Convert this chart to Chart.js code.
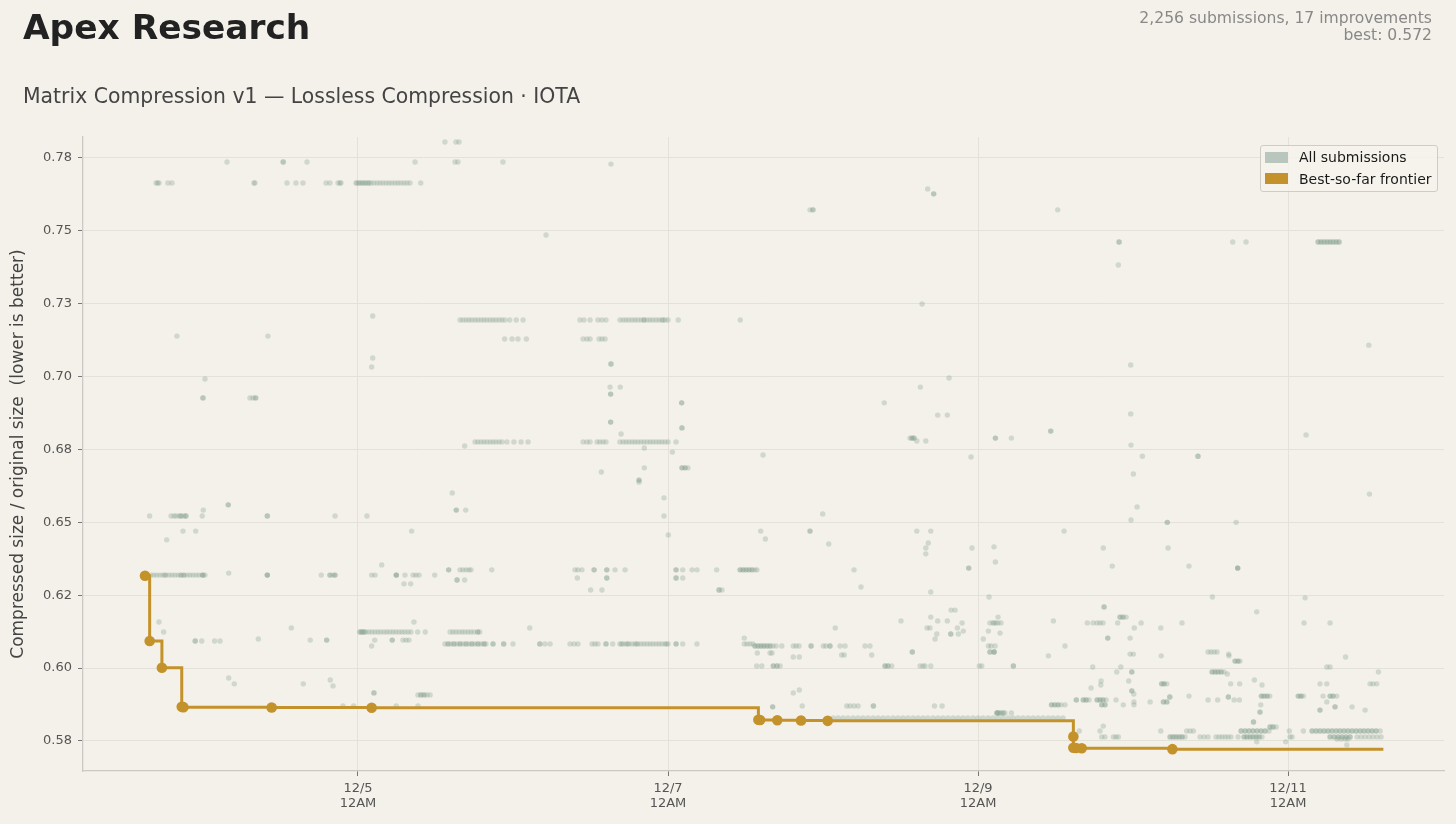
<!DOCTYPE html>
<html>
<head>
<meta charset="utf-8">
<script src="https://cdn.jsdelivr.net/npm/chart.js@4.4.1/dist/chart.umd.min.js"></script>
<style>
html,body{margin:0;padding:0;background:#f4f1ea;width:1456px;height:824px;overflow:hidden;font-family:"DejaVu Sans",sans-serif}
#wrap{position:relative;width:1456px;height:824px}
#c{position:absolute;left:0;top:0;width:1456px;height:824px}
.t{position:absolute;white-space:pre;line-height:1}
#title{left:23px;top:10px;font-size:34.4px;font-weight:bold;color:#222}
#subtitle{left:23px;top:85.5px;font-size:20.4px;color:#444}
#stats{right:24px;top:10px;font-size:15.6px;line-height:17.4px;color:#888;text-align:right}
#legend{position:absolute;left:1260px;top:145px;width:176px;height:45px;border:1px solid #cfccc4;border-radius:3px;background:rgba(246,244,238,0.8)}
.sw{position:absolute;width:23px;height:11px}
.lt{position:absolute;font-size:14px;line-height:1;color:#1a1a1a;white-space:pre}
</style>
</head>
<body>
<div id="wrap">
<canvas id="c" width="1456" height="824"></canvas>
<div class="t" id="title">Apex Research</div>
<div class="t" id="subtitle">Matrix Compression v1 — Lossless Compression · IOTA</div>
<div class="t" id="stats">2,256 submissions, 17 improvements
best: 0.572</div>
<div id="legend"></div>
</div>
<script>
// ---------- axis ticks ----------
const xTickValues = [5, 7, 9, 11];               // day of December, 12AM
const xTickLabels = [['12/5','12AM'],['12/7','12AM'],['12/9','12AM'],['12/11','12AM']];
const yTickValues = [0.575,0.6,0.625,0.65,0.675,0.7,0.725,0.75,0.775];
const yTickLabels = ['0.58','0.60','0.62','0.65','0.68','0.70','0.73','0.75','0.78'];
const xRange = [3.226, 12.006];
const yRange = [0.5647, 0.7822];

// ---------- best-so-far frontier (improvements) ----------
const frontierTimes  = [3.626,3.656,3.735,3.863,3.874,4.443,5.088,7.583,7.594,7.705,7.858,8.030,9.615,9.615,9.632,9.669,10.254];
const frontierValues = [0.6317,0.6093,0.6001,0.5867,0.5866,0.5865,0.5864,0.5823,0.5822,0.5821,0.5820,0.5819,0.5765,0.5727,0.5726,0.5725,0.5722];
const frontierNow = [11.615, 0.5722];

// ---------- all submissions: [value, [times (day of Dec)]] ----------
const subsDec3to5 = [
 [0.7805,[5.561,5.632,5.652]],
 [0.7736,[4.155,4.516,4.519,4.671,5.368,5.626,5.645,5.935]],
 [0.7664,[3.697,3.708,3.716,3.774,3.800,4.329,4.335,4.542,4.600,4.645,4.794,4.819,4.871,4.884,4.890,4.987,4.994,5.006,5.013,5.026,5.032,5.045,5.052,5.065,5.071,5.084,5.103,5.123,5.142,5.161,5.181,5.200,5.219,5.239,5.258,5.277,5.297,5.316,5.335,5.405]],
 [0.7208,[5.095]],
 [0.7194,[5.658,5.677,5.697,5.716,5.735,5.755,5.774,5.794,5.813,5.832,5.852,5.871,5.890,5.910,5.929,5.948,5.979,6.021,6.065]],
 [0.7139,[3.832,4.419]],
 [0.7129,[5.946,5.994,6.032,6.086]],
 [0.7064,[5.095]],
 [0.7033,[5.088]],
 [0.6992,[4.013]],
 [0.6927,[4.000,4.000,4.303,4.323,4.340,4.340]],
 [0.6776,[5.755,5.774,5.794,5.813,5.832,5.852,5.871,5.890,5.910,5.929,5.961,6.006,6.052,6.097]],
 [0.6762,[5.688]],
 [0.6601,[5.608]],
 [0.6560,[4.163,4.163]],
 [0.6542,[4.002,5.634,5.634,5.695]],
 [0.6522,[3.656,3.794,3.813,3.826,3.845,3.858,3.858,3.877,3.890,3.890,3.995,4.415,4.415,4.852,5.058]],
 [0.6470,[3.871,3.953,5.346]],
 [0.6440,[3.766]],
 [0.6354,[5.153]],
 [0.6337,[5.585,5.585,5.658,5.677,5.697,5.716,5.729,5.863]],
 [0.6326,[4.166]],
 [0.6319,[3.665,3.684,3.703,3.723,3.742,3.755,3.761,3.781,3.800,3.819,3.839,3.858,3.858,3.877,3.877,3.897,3.916,3.935,3.955,3.974,3.994,4.000,4.000,4.013,4.415,4.415,4.415,4.763,4.819,4.819,4.839,4.852,4.852,5.088,5.110,5.247,5.247,5.247,5.303,5.355,5.374,5.394,5.495]],
 [0.6302,[5.639,5.639,5.688]],
 [0.6289,[5.297,5.340]],
 [0.6158,[3.716,5.361]],
 [0.6138,[4.570,6.108]],
 [0.6124,[3.746,5.013,5.013,5.026,5.026,5.039,5.039,5.052,5.071,5.090,5.110,5.129,5.148,5.168,5.187,5.206,5.226,5.245,5.265,5.284,5.303,5.323,5.342,5.385,5.434,5.594,5.613,5.632,5.652,5.671,5.690,5.710,5.729,5.748,5.772,5.772,5.785]],
 [0.6100,[4.357]],
 [0.6096,[4.692,4.798,4.798,5.108,5.221,5.221,5.290,5.310,5.329]],
 [0.6093,[3.950,3.950,3.992,4.075,4.110]],
 [0.6083,[5.561,5.581,5.581,5.600,5.619,5.619,5.639,5.658,5.658,5.677,5.697,5.697,5.716,5.735,5.735,5.755,5.774,5.774,5.794,5.813,5.813,5.826,5.871,5.871,5.940,5.940,6.000,6.172]],
 [0.6076,[5.088]],
 [0.5966,[4.166]],
 [0.5959,[4.821]],
 [0.5946,[4.202,4.647]],
 [0.5939,[4.839]],
 [0.5915,[5.103,5.103]],
 [0.5908,[5.387,5.406,5.406,5.426,5.426,5.445,5.465]],
 [0.5870,[4.903,4.972,5.247,5.387]]
];

const subsDec6to9 = [
 [0.7729,[6.632]],
 [0.7644,[8.675]],
 [0.7627,[8.714,8.714]],
 [0.7572,[7.916,7.935,7.935]],
 [0.7486,[6.213]],
 [0.7249,[8.639]],
 [0.7194,[6.432,6.458,6.497,6.548,6.574,6.600,6.690,6.710,6.729,6.748,6.768,6.787,6.806,6.826,6.845,6.845,6.865,6.884,6.903,6.923,6.942,6.961,6.968,6.981,7.000,7.066,7.466]],
 [0.7129,[6.452,6.477,6.497,6.555,6.574,6.594]],
 [0.7043,[6.632,6.632]],
 [0.6995,[8.813]],
 [0.6964,[6.626,6.692,8.628]],
 [0.6940,[6.630,6.630]],
 [0.6910,[7.088,7.088,8.395]],
 [0.6868,[8.740,8.802]],
 [0.6844,[6.630,6.630]],
 [0.6824,[7.090,7.090]],
 [0.6803,[6.697]],
 [0.6789,[8.561,8.574,8.574,8.587,8.587,9.112,9.112]],
 [0.6779,[8.605,8.663]],
 [0.6776,[6.452,6.477,6.497,6.542,6.561,6.581,6.600,6.690,6.710,6.729,6.748,6.768,6.787,6.806,6.826,6.845,6.865,6.884,6.903,6.923,6.942,6.961,6.981,7.000,7.052]],
 [0.6755,[6.847]],
 [0.6741,[7.028]],
 [0.6731,[7.613]],
 [0.6724,[8.955]],
 [0.6687,[6.847,7.090,7.090,7.110,7.110,7.129]],
 [0.6673,[6.570]],
 [0.6645,[6.813,6.813]],
 [0.6638,[6.813]],
 [0.6584,[6.974]],
 [0.6529,[7.998]],
 [0.6522,[6.974]],
 [0.6470,[7.598,7.916,7.916,8.605,8.695]],
 [0.6457,[7.002]],
 [0.6443,[7.628]],
 [0.6429,[8.679]],
 [0.6426,[8.037]],
 [0.6416,[9.103]],
 [0.6412,[8.663,8.961]],
 [0.6392,[8.663]],
 [0.6364,[9.112]],
 [0.6343,[8.940,8.940]],
 [0.6337,[6.400,6.419,6.445,6.523,6.523,6.605,6.605,6.658,6.723,7.052,7.052,7.095,7.155,7.187,7.314,7.465,7.465,7.484,7.484,7.503,7.503,7.523,7.523,7.542,7.542,7.561,7.574,8.200]],
 [0.6309,[6.415,6.605,6.605,7.052,7.052,7.095]],
 [0.6278,[8.245]],
 [0.6268,[6.501,6.574,7.329,7.329,7.348]],
 [0.6261,[8.695]],
 [0.6244,[9.071]],
 [0.6199,[8.826,8.852]],
 [0.6175,[8.695]],
 [0.6162,[8.503,8.740,8.802]],
 [0.6155,[8.897,9.097,9.116]],
 [0.6138,[8.079,8.671,8.690,8.867]],
 [0.6127,[8.905,9.067]],
 [0.6117,[8.734,8.824,8.824,8.873]],
 [0.6103,[7.492]],
 [0.6100,[8.723,9.034]],
 [0.6083,[6.174,6.206,6.239,6.368,6.394,6.419,6.510,6.529,6.548,6.600,6.600,6.643,6.690,6.700,6.710,6.729,6.739,6.748,6.768,6.787,6.797,6.806,6.826,6.845,6.865,6.884,6.903,6.923,6.942,6.961,6.981,6.990,7.000,7.052,7.052,7.095,7.187,7.492,7.510,7.529,7.548]],
 [0.6076,[7.561,7.561,7.581,7.581,7.600,7.600,7.619,7.619,7.639,7.639,7.658,7.658,7.677,7.697,7.734,7.808,7.826,7.845,7.923,7.923,8.002,8.019,8.045,8.045,8.110,8.142,8.271,8.303,9.067,9.084,9.110]],
 [0.6055,[8.576,8.576,9.105]],
 [0.6052,[7.576,7.658,7.671]],
 [0.6045,[8.120,8.137,8.314]],
 [0.6038,[7.808,7.847]],
 [0.6007,[7.572,7.605,7.679,7.679,7.703,7.703,7.723,8.400,8.400,8.419,8.419,8.443,8.626,8.645,8.658,8.695,9.008,9.024]],
 [0.5925,[7.847]],
 [0.5915,[7.808]],
 [0.5870,[7.866,8.153,8.174,8.200,8.226,8.325,8.325,8.719,8.768]],
 [0.5867,[7.675,7.675]],
 [0.5846,[9.127,9.127]],
 [0.5829,[8.065,8.097,8.129,8.161,8.194,8.226,8.258,8.290,8.323,8.355,8.387,8.419,8.452,8.484,8.516,8.548,8.581,8.613,8.645,8.677,8.710,8.742,8.774,8.806,8.839,8.871,8.903,8.935,8.968,9.000,9.032,9.065,9.097,9.129,9.161,9.194,9.226,9.258,9.290,9.323,9.355,9.387,9.419,9.452,9.484,9.516,9.548]]
];

const subsDec9to12 = [
 [0.7572,[9.514]],
 [0.7462,[9.910,9.910,10.643,10.729,11.194,11.194,11.213,11.213,11.232,11.232,11.252,11.252,11.271,11.271,11.290,11.290,11.310,11.310,11.329,11.329]],
 [0.7383,[9.905]],
 [0.7108,[11.521]],
 [0.7040,[9.985]],
 [0.6872,[9.985]],
 [0.6813,[9.469,9.469]],
 [0.6800,[11.116]],
 [0.6789,[9.215]],
 [0.6765,[9.987]],
 [0.6727,[10.060,10.419,10.419]],
 [0.6666,[10.002]],
 [0.6597,[11.525]],
 [0.6553,[10.026]],
 [0.6508,[9.987]],
 [0.6500,[10.221,10.221,10.665]],
 [0.6470,[9.555]],
 [0.6412,[9.808,10.226]],
 [0.6350,[9.866,10.361]],
 [0.6343,[10.675,10.675,10.675]],
 [0.6244,[10.512]],
 [0.6241,[11.110]],
 [0.6210,[9.813,9.813]],
 [0.6193,[10.798]],
 [0.6175,[9.129,9.916,9.916,9.935,9.935,9.955]],
 [0.6162,[9.486]],
 [0.6155,[9.077,9.103,9.129,9.148,9.705,9.742,9.768,9.787,9.806,9.901,10.052,10.316,11.103,11.271]],
 [0.6138,[10.008,10.179]],
 [0.6120,[9.142]],
 [0.6103,[9.837,9.837,9.981]],
 [0.6076,[9.561]],
 [0.6055,[9.077,9.077,9.103,9.103,10.484,10.503,10.523,10.542]],
 [0.6048,[9.981,10.002,10.617]],
 [0.6042,[9.454,10.182,10.619]],
 [0.6038,[11.371]],
 [0.6024,[10.658,10.658,10.677,10.677,10.690]],
 [0.6007,[9.228,9.228]],
 [0.6004,[9.740,9.921,11.250,11.271]],
 [0.5987,[9.895,9.992,9.992,10.510,10.510,10.529,10.529,10.548,10.548,10.568,10.568,10.587,11.583]],
 [0.5980,[10.608]],
 [0.5959,[10.783]],
 [0.5956,[9.794,9.972]],
 [0.5946,[10.185,10.185,10.200,10.200,10.218,10.630,10.688,11.206,11.250,11.529,11.548,11.572]],
 [0.5942,[9.792,10.832]],
 [0.5932,[9.729]],
 [0.5922,[9.992,9.992]],
 [0.5911,[10.005]],
 [0.5904,[10.361,10.828,10.828,10.845,10.845,10.865,10.865,10.882,11.066,11.066,11.084,11.084,11.099,11.226,11.271,11.271,11.290,11.290,11.314]],
 [0.5901,[10.237,10.237,10.615,10.615]],
 [0.5891,[9.634,9.634,9.679,9.679,9.697,9.697,9.716,9.768,9.768,9.787,9.787,9.806,9.806,9.826,9.890,10.484,10.546,10.652,10.686]],
 [0.5884,[10.006,10.110,10.196,10.196,10.218,10.218,11.250]],
 [0.5874,[9.474,9.474,9.495,9.495,9.516,9.516,9.535,9.561,9.798,9.798,9.819,9.819,9.937,10.006,10.824]],
 [0.5867,[11.303,11.303,11.413]],
 [0.5856,[11.206,11.206,11.497]],
 [0.5849,[10.819,10.819]],
 [0.5846,[9.121,9.121,9.142,9.142,9.161,9.161,9.174,9.215]],
 [0.5815,[10.777,10.777]],
 [0.5801,[9.808]],
 [0.5798,[10.884,10.884,10.903,10.903,10.923]],
 [0.5784,[9.653,9.787,10.179,10.346,10.368,10.389,10.697,10.697,10.723,10.723,10.748,10.748,10.774,10.774,10.800,10.800,10.826,10.826,10.852,10.852,10.877,11.008,11.099,11.155,11.155,11.181,11.181,11.206,11.206,11.232,11.232,11.258,11.258,11.284,11.284,11.310,11.310,11.335,11.335,11.361,11.361,11.387,11.387,11.413,11.413,11.439,11.439,11.465,11.465,11.490,11.490,11.516,11.516,11.542,11.542,11.568,11.568,11.594]],
 [0.5764,[9.798,9.819,9.873,9.890,9.905,10.239,10.239,10.258,10.258,10.277,10.277,10.297,10.297,10.316,10.316,10.335,10.432,10.458,10.484,10.535,10.555,10.574,10.594,10.613,10.632,10.677,10.716,10.716,10.735,10.735,10.755,10.755,10.774,10.774,10.794,10.794,10.813,10.813,10.832,11.013,11.026,11.271,11.271,11.297,11.297,11.323,11.323,11.348,11.348,11.374,11.374,11.400,11.400,11.445,11.471,11.497,11.523,11.548,11.574,11.600]],
 [0.5757,[11.316,11.342,11.368,11.387]],
 [0.5747,[10.798,10.985]],
 [0.5736,[11.379]]
];

// ---------- styling ----------
const GOLD = '#c4922b';
const SAGE_PT = 'rgba(138,164,146,0.34)';
const SAGE_SWATCH = '#b8c6bd';
const seriesNames = ['All submissions', 'Best-so-far frontier'];

// ---------- build ----------
const flatten = rows => rows.flatMap(([v, ts]) => ts.map(t => ({x: t, y: v})));
const submissionPoints = [...flatten(subsDec3to5), ...flatten(subsDec6to9), ...flatten(subsDec9to12)];
const frontierPoints = frontierTimes.map((t, i) => ({x: t, y: frontierValues[i]}));
frontierPoints.push({x: frontierNow[0], y: frontierNow[1]});
const frontierRadii = frontierPoints.map((p, i) => i < frontierTimes.length ? 5.3 : 0);

Chart.defaults.font.family = "'DejaVu Sans', sans-serif";

new Chart(document.getElementById('c'), {
  data: {
    datasets: [
      {
        type: 'line', label: seriesNames[1], data: frontierPoints, order: 0,
        borderColor: GOLD, backgroundColor: GOLD, borderWidth: 3, stepped: true,
        fill: false, tension: 0, borderJoinStyle: 'miter', borderCapStyle: 'butt',
        pointRadius: frontierRadii, pointHoverRadius: frontierRadii,
        pointBackgroundColor: GOLD, pointBorderWidth: 0
      },
      {
        type: 'scatter', label: seriesNames[0], data: submissionPoints, order: 1,
        backgroundColor: SAGE_PT, borderWidth: 0, pointRadius: 2.7, pointHoverRadius: 2.7
      }
    ]
  },
  options: {
    responsive: false, animation: false, events: [],
    layout: {padding: {top: 137, right: 12, bottom: 0, left: 0}},
    plugins: {legend: {display: false}, tooltip: {enabled: false}, title: {display: false}},
    scales: {
      x: {
        type: 'linear', position: 'bottom', min: xRange[0], max: xRange[1],
        afterBuildTicks: s => { s.ticks = xTickValues.map(v => ({value: v})); },
        afterFit: s => { s.height = 53; },
        ticks: {autoSkip: false, maxRotation: 0, minRotation: 0, color: '#555', padding: 5,
                font: {size: 13, lineHeight: 1.15},
                callback: v => xTickLabels[xTickValues.indexOf(v)]},
        grid: {color: '#e4e1d9', lineWidth: 1, tickLength: 5, tickColor: '#777', tickWidth: 1},
        border: {display: true, color: '#cbc9c3', width: 1.3}
      },
      y: {
        type: 'linear', position: 'left', min: yRange[0], max: yRange[1],
        afterBuildTicks: s => { s.ticks = yTickValues.map(v => ({value: v})); },
        afterFit: s => { s.width = 83; },
        ticks: {autoSkip: false, color: '#555', padding: 6, font: {size: 13},
                callback: v => yTickLabels[yTickValues.indexOf(v)]},
        grid: {color: '#e4e1d9', lineWidth: 1, tickLength: 5, tickColor: '#777', tickWidth: 1},
        border: {display: true, color: '#cbc9c3', width: 1.3},
        title: {display: true, text: 'Compressed size / original size  (lower is better)',
                color: '#444', font: {size: 17}, padding: {top: 8, bottom: 0}}
      }
    }
  }
});

// ---------- legend (HTML, real text) ----------
const legend = document.getElementById('legend');
const legendColors = [SAGE_SWATCH, GOLD];
seriesNames.forEach((name, i) => {
  const sw = document.createElement('div');
  sw.className = 'sw';
  sw.style.left = '4px';
  sw.style.top = (6 + i * 21) + 'px';
  sw.style.background = legendColors[i];
  legend.appendChild(sw);
  const t = document.createElement('div');
  t.className = 'lt';
  t.style.left = '38px';
  t.style.top = (4 + i * 21.5) + 'px';
  t.textContent = name;
  legend.appendChild(t);
});
</script>
</body>
</html>
